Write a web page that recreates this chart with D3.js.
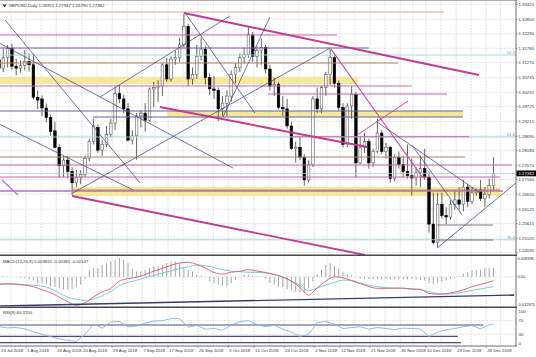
<!DOCTYPE html>
<html><head><meta charset="utf-8">
<script src="https://cdn.jsdelivr.net/npm/d3@7"></script>
<style>body{margin:0;background:#fff;}svg{display:block;font-family:"Liberation Sans",Arial,sans-serif;}</style>
</head><body>
<svg id="c" width="536" height="357"></svg>
<script>
// ---------- DATA ----------
const symbol = "GBPUSD,Daily";
const opens = [1.3137,1.3108,1.3146,1.3177,1.3115,1.3108,1.3118,1.3132,1.3120,1.3006,1.3000,1.2968,1.2935,1.2888,1.2830,1.2765,1.2785,1.2745,1.2705,1.2725,1.2735,1.2790,1.2850,1.2900,1.2820,1.2840,1.2875,1.2915,1.3020,1.3000,1.2965,1.2855,1.2870,1.2940,1.2950,1.2925,1.3035,1.3040,1.3045,1.3120,1.3070,1.3140,1.3145,1.3190,1.3255,1.3070,1.3085,1.3150,1.3175,1.3075,1.3035,1.3030,1.2965,1.2985,1.3010,1.3085,1.3110,1.3145,1.3155,1.3225,1.3150,1.3170,1.3180,1.3105,1.3045,1.3050,1.2970,1.2965,1.2905,1.2825,1.2830,1.2795,1.2715,1.2770,1.3000,1.2965,1.3040,1.3085,1.3145,1.3055,1.2970,1.2840,1.2975,1.3015,1.2775,1.2830,1.2850,1.2775,1.2815,1.2880,1.2815,1.2830,1.2720,1.2795,1.2770,1.2745,1.2730,1.2722,1.2740,1.2755,1.2725,1.2560,1.2495,1.2630,1.2590,1.2585,1.2630,1.2645,1.2630,1.2690,1.2640,1.2670,1.2680,1.2650,1.2665,1.26951];
const highs = [1.3150,1.3177,1.3189,1.3194,1.3140,1.3135,1.3172,1.3160,1.3156,1.3030,1.3012,1.2985,1.2945,1.2920,1.2840,1.2800,1.2800,1.2760,1.2750,1.2750,1.2800,1.2860,1.2930,1.2910,1.2855,1.2905,1.2930,1.3043,1.3050,1.3015,1.2985,1.2890,1.2950,1.2960,1.2985,1.3040,1.3060,1.3065,1.3125,1.3145,1.3150,1.3170,1.3215,1.3298,1.3265,1.3110,1.3190,1.3215,1.3185,1.3090,1.3080,1.3040,1.3010,1.3030,1.3100,1.3125,1.3160,1.3180,1.3257,1.3235,1.3185,1.3212,1.3190,1.3120,1.3075,1.3060,1.3010,1.3000,1.2920,1.2850,1.2865,1.2805,1.2785,1.3010,1.3040,1.3045,1.3095,1.3175,1.3160,1.3065,1.2985,1.2985,1.3045,1.3025,1.2870,1.2880,1.2860,1.2825,1.2930,1.2890,1.2845,1.2835,1.2805,1.2815,1.2800,1.2840,1.2790,1.2760,1.2800,1.2825,1.2745,1.2670,1.2670,1.2670,1.2620,1.2645,1.2680,1.2690,1.2715,1.2700,1.2690,1.2685,1.2715,1.2690,1.2720,1.27947];
const lows = [1.3100,1.3094,1.3110,1.3103,1.3082,1.3092,1.3100,1.3096,1.2998,1.2965,1.2940,1.2918,1.2870,1.2825,1.2723,1.2725,1.2720,1.2662,1.2690,1.2700,1.2725,1.2780,1.2840,1.2810,1.2800,1.2830,1.2865,1.2890,1.2985,1.2950,1.2850,1.2840,1.2786,1.2900,1.2885,1.2920,1.2970,1.2990,1.3010,1.3060,1.3060,1.3120,1.3130,1.3180,1.3045,1.3050,1.3070,1.3135,1.3050,1.3015,1.3000,1.2922,1.2940,1.2940,1.2990,1.3055,1.3095,1.3125,1.3145,1.3130,1.3110,1.3120,1.3090,1.3030,1.3010,1.2965,1.2940,1.2895,1.2820,1.2776,1.2785,1.2695,1.2705,1.2760,1.2950,1.2950,1.3010,1.3050,1.3040,1.2960,1.2830,1.2830,1.2930,1.2725,1.2770,1.2810,1.2755,1.2760,1.2810,1.2805,1.2790,1.2705,1.2710,1.2755,1.2725,1.2720,1.2660,1.2695,1.2690,1.2715,1.2530,1.2488,1.2477,1.2580,1.2560,1.2575,1.2610,1.2610,1.2605,1.2620,1.2630,1.2660,1.2640,1.2620,1.2650,1.26790];
const closes = [1.3108,1.3146,1.3177,1.3115,1.3108,1.3118,1.3132,1.3120,1.3006,1.2996,1.2968,1.2935,1.2885,1.2830,1.2765,1.2785,1.2745,1.2705,1.2725,1.2735,1.2790,1.2850,1.2905,1.2820,1.2840,1.2875,1.2915,1.3020,1.3000,1.2965,1.2855,1.2870,1.2940,1.2950,1.2925,1.3035,1.3040,1.3045,1.3120,1.3070,1.3140,1.3145,1.3190,1.3255,1.3070,1.3085,1.3150,1.3175,1.3075,1.3035,1.3030,1.2965,1.2985,1.3010,1.3085,1.3110,1.3145,1.3155,1.3225,1.3150,1.3170,1.3180,1.3105,1.3045,1.3050,1.2970,1.2965,1.2905,1.2825,1.2830,1.2795,1.2715,1.2770,1.3000,1.2965,1.3040,1.3085,1.3145,1.3055,1.2970,1.2840,1.2975,1.3015,1.2775,1.2830,1.2850,1.2775,1.2815,1.2880,1.2815,1.2830,1.2720,1.2795,1.2770,1.2745,1.2730,1.2722,1.2740,1.2755,1.2725,1.2560,1.2495,1.2630,1.2590,1.2585,1.2630,1.2645,1.2630,1.2690,1.2640,1.2670,1.2680,1.2650,1.2665,1.2695,1.27382];

const timeLabels = ["23 Jul 2018","1 Aug 2018","10 Aug 2018","20 Aug 2018","29 Aug 2018","7 Sep 2018","17 Sep 2018","26 Sep 2018","5 Oct 2018","15 Oct 2018","24 Oct 2018","2 Nov 2018","12 Nov 2018","21 Nov 2018","30 Nov 2018","10 Dec 2018","19 Dec 2018","28 Dec 2018"];
const timeLabelIdx = [0,7,14,20,27,34,40,47,54,60,67,74,80,87,94,100,107,114];
const priceTicks = [1.33325,1.32800,1.32290,1.31780,1.31270,1.30745,1.30235,1.29725,1.29215,1.28690,1.28180,1.27670,1.27160,1.26650,1.26125,1.25615,1.25105,1.24595];

// horizontal levels (price, from bar, to bar, kind)
const levelPrices = [1.33054,1.32246,1.31789,1.31262,1.30454,1.30173,1.29575,1.29364,1.28672,1.27958,1.27677,1.27255,1.26763,1.26798,1.25569,1.25041];
const levelFrom   = [-2,-2,-2,-2,-2,62.6,-2,21.9,67.7,-2,-2,-2,-2,17,101.9,101.9];
const levelTo     = [103.5,78.6,86,92.8,96,104.2,107.9,107.9,109.3,108.4,119.3,116.5,117.2,116.5,114.9,114.9];
const levelKind   = ["tan","pink","slate","brown","pink","pink","slate","slate","pink","brown","pink","pink","violet","brown","gray","gray"];
// zones
const bandTop    = [1.30770,1.29575,1.26904];
const bandBottom = [1.30524,1.29364,1.26588];
const bandFrom   = [-2,39.1,17];
const bandTo     = [83.5,107.9,116.5];
// fibonacci
const fibPct   = ["50.0","61.8","76.4"];
const fibPrice = [1.31543,1.28661,1.25050];
// trend lines
const trendI1 = [43.0,37.4,17.0,77.2,83.3,17.2,43.3,23.5,-1,1.4,-1,52.1,87.9,96.0,101.9,0.7];
const trendP1 = [1.33019,1.29716,1.26588,1.31754,1.28732,1.26693,1.33019,1.30067,1.32048,1.32773,1.29196,1.29364,1.29189,1.28380,1.24760,1.27150];
const trendI2 = [111.6,85.6,85.1,98.6,95.1,77.0,59.5,53.7,54.4,32.8,31.2,63.0,111.9,107.7,120.5,4.4];
const trendP2 = [1.30840,1.28310,1.24514,1.27220,1.29926,1.31789,1.29505,1.32914,1.27572,1.27045,1.26799,1.32879,1.26693,1.25920,1.27080,1.26623];
const trendKind = ["thick","thick","thick","pinkM","pinkT","dark","dark","dark","dark","dark","dark","dark","dark","dark","dark","violet"];

// MACD (values in 1e-3), lines sampled every 2 bars (last = final bar)
const macdHist = [0.3,0.3,0.2,0,-0.2,-0.4,-0.6,-1.0,-1.5,-2.5,-2.7,-3.4,-4.2,-4.5,-4.9,-5.4,-5.6,-5.2,-4.5,-3.4,-1.0,3.0,3.8,3.8,5.2,5.9,6.7,7.4,8.1,7.4,5.9,3.5,2.3,2.3,3.0,3.8,4.5,4.5,5.2,5.9,6.7,6.7,5.9,4.5,3.0,2.3,0.9,0.5,-0.3,-2.0,-2.7,-3.4,-3.9,-3.9,-2.7,-1.3,0.1,0.9,0.9,0.5,0.3,0.1,-0.6,-2.7,-3.4,-4.2,-4.5,-5.4,-6.0,-6.4,-6.8,-7.1,-5.0,-2.0,0.9,3.0,5.2,5.9,4.8,3.6,2.3,1.3,0.9,0.1,-0.6,-0.8,-1.0,-1.1,-0.9,-1.0,-1.1,-1.2,-1.0,-1.1,-1.2,-1.1,-1.0,-1.2,-1.3,-1.5,-2.8,-3.1,-2.9,-2.2,-1.6,-0.9,-0.3,0.4,1.3,2.0,2.6,3.0,3.2,3.6,3.9,3.82];
const macdMain = [-3.2,-3.0,-3.2,-3.6,-4.3,-5.6,-6.9,-8.8,-10.8,-12.4,-11.3,-8.7,-6.5,-5.0,-1.9,-0.8,-0.2,1.0,2.5,3.7,5.0,6.0,6.3,5.4,3.8,1.9,1.2,2.0,2.4,3.1,2.5,1.9,1.0,0.0,-1.9,-4.6,-7.9,-4.8,-1.8,0.0,-0.4,-1.7,-3.0,-4.2,-5.0,-5.0,-4.9,-4.9,-5.3,-5.4,-7.2,-7.5,-7.3,-6.6,-5.7,-4.3,-3.3,-2.3,-1.7];
const macdSignal = [-3.2,-3.2,-3.2,-3.4,-3.7,-4.0,-5.0,-7.0,-8.8,-9.8,-10.2,-9.6,-8.2,-6.4,-3.8,-2.4,-1.5,-0.4,0.6,1.7,2.6,3.6,4.4,5.1,4.8,4.0,3.1,2.5,2.2,2.0,1.9,1.7,1.0,-0.2,-1.8,-3.7,-6.1,-4.9,-3.6,-2.4,-1.4,-1.5,-2.7,-3.6,-4.3,-4.7,-4.9,-5.0,-5.3,-5.6,-6.4,-7.3,-7.5,-7.2,-6.6,-5.9,-5.2,-4.6,-4.3];
const macdTrendI = [0.2,119.8];
const macdTrendV = [-12.68,-7.9];
const macdTicks = [8.396,0,-12.875];
const macdTickText = ["0.008396","0.00","-0.012875"];
// RSI(9), sampled every 2 bars (last = final bar)
const rsiVals = [52,49,50,46,38,30,23,17,12,9,30,60,48,66,68,52,54,63,69,70,76,76,51,56,45,47,42,57,67,70,59,52,57,45,36,24,30,64,68,60,47,50,52,45,50,47,44,48,47,46,23,37,43,47,52,56,46,58,60.37];
const rsiLevelVals = [57.4,24.0,5.5];
const rsiLevelTo = [112.6,106.7,107.4];
const rsiTicks = [100,70,30,0];

// ---------- DRAW ----------
const svg = d3.select("#c");
const R = 516;
const FS = 4.3;
const last = closes.length - 1;
const xs = d3.scaleLinear().domain([0, 115]).range([-1, 493.5]);
const yP = d3.scaleLinear().domain([1.24595, 1.33325]).range([252.7, 4.3]);
const yM = d3.scaleLinear().domain([-12.875, 8.396]).range([306.5, 257.5]);
const yR = d3.scaleLinear().domain([0, 100]).range([344.5, 310.5]);
const stepIdx = (k) => Math.min(2 * k, 115);

svg.append("rect").attr("width", 536).attr("height", 357).attr("fill", "#fff");
const defs = svg.append("defs");
function clip(id, y0, y1) {
  defs.append("clipPath").attr("id", id).append("rect")
    .attr("x", 0).attr("y", y0).attr("width", R).attr("height", y1 - y0);
}
clip("cpMain", 0, 255); clip("cpMacd", 256, 306.5); clip("cpRsi", 308, 345.5);

// grid
const grid = svg.append("g").attr("stroke", "#c4c4c4").attr("stroke-width", 0.6).attr("stroke-dasharray", "1.4,1.4");
const tickX = timeLabelIdx.map(i => xs(i) - 3);
const gridX = [];
tickX.forEach((t, k) => {
  const nx = k < tickX.length - 1 ? tickX[k + 1] : t + 28.5;
  gridX.push(t, (t + nx) / 2);
});
gridX.filter(g => g > 1 && g < R).forEach(g => {
  grid.append("line").attr("x1", g).attr("x2", g).attr("y1", 0).attr("y2", 346);
});
priceTicks.forEach(p => grid.append("line").attr("x1", 0).attr("x2", R).attr("y1", yP(p)).attr("y2", yP(p)));
[0].forEach(v => grid.append("line").attr("x1", 0).attr("x2", R).attr("y1", yM(v)).attr("y2", yM(v)));
[70, 30].forEach(v => grid.append("line").attr("x1", 0).attr("x2", R).attr("y1", yR(v)).attr("y2", yR(v)));

// main panel
const main = svg.append("g").attr("clip-path", "url(#cpMain)");
bandTop.forEach((t, k) => {
  main.append("rect").attr("x", xs(bandFrom[k])).attr("width", xs(bandTo[k]) - xs(bandFrom[k]))
    .attr("y", yP(t)).attr("height", yP(bandBottom[k]) - yP(t)).attr("fill", "#f4e592").attr("opacity", 0.9);
});
// candles
const bw = 2.6;
closes.forEach((c, i) => {
  const o = opens[i], x = xs(i);
  main.append("line").attr("x1", x).attr("x2", x).attr("y1", yP(highs[i])).attr("y2", yP(lows[i]))
    .attr("stroke", "#222").attr("stroke-width", 0.7);
  const top = yP(Math.max(o, c)), bot = yP(Math.min(o, c));
  main.append("rect").attr("x", x - bw / 2).attr("width", bw).attr("y", top).attr("height", Math.max(0.6, bot - top))
    .attr("fill", c >= o ? "#fafafa" : "#000").attr("stroke", c >= o ? "#555" : "#000").attr("stroke-width", 0.55);
});
// levels
const lvlStyle = {tan:["#dba780",1.1], pink:["#c966a8",1.1], slate:["#6464a2",1.0], brown:["#b3835e",1.0], violet:["#b66fd2",1.4], gray:["#5a5a5a",0.8]};
fibPrice.forEach((p) => {
  main.append("line").attr("x1", 0).attr("x2", R).attr("y1", yP(p)).attr("y2", yP(p)).attr("stroke", "#a4d3dc").attr("stroke-width", 0.9);
});
main.append("line").attr("x1", 0).attr("x2", R).attr("y1", yP(closes[last])).attr("y2", yP(closes[last]))
  .attr("stroke", "#c4c4c4").attr("stroke-width", 0.8);
levelPrices.forEach((p, k) => {
  const s = lvlStyle[levelKind[k]];
  main.append("line").attr("x1", xs(levelFrom[k])).attr("x2", xs(levelTo[k])).attr("y1", yP(p)).attr("y2", yP(p))
    .attr("stroke", s[0]).attr("stroke-width", s[1]);
});
const trStyle = {thick:["#c53a92",1.9], pinkM:["#c64c9e",1.2], pinkT:["#c64c9e",1.0], dark:["#454575",0.75], violet:["#b66fd2",1.1]};
trendI1.forEach((a, k) => {
  const s = trStyle[trendKind[k]];
  main.append("line").attr("x1", xs(a)).attr("y1", yP(trendP1[k])).attr("x2", xs(trendI2[k])).attr("y2", yP(trendP2[k]))
    .attr("stroke", s[0]).attr("stroke-width", s[1]);
});
// fib labels
fibPct.forEach((t, k) => {
  svg.append("text").attr("x", 515).attr("y", yP(fibPrice[k]) - 0.8).attr("text-anchor", "end")
    .attr("font-size", FS).attr("fill", "#5fa8b4").text(t);
});

// MACD panel
const mg = svg.append("g").attr("clip-path", "url(#cpMacd)");
macdHist.forEach((v, i) => {
  mg.append("line").attr("x1", xs(i)).attr("x2", xs(i)).attr("y1", yM(0)).attr("y2", yM(v))
    .attr("stroke", "#a6a6a6").attr("stroke-width", 1.0);
});
const lineM = d3.line().x((d, k) => xs(stepIdx(k))).y(d => yM(d)).curve(d3.curveMonotoneX);
mg.append("path").attr("d", lineM(macdSignal)).attr("fill", "none").attr("stroke", "#6cc6d6").attr("stroke-width", 0.9);
mg.append("path").attr("d", lineM(macdMain)).attr("fill", "none").attr("stroke", "#d65a6c").attr("stroke-width", 0.9);
mg.append("line").attr("x1", xs(macdTrendI[0])).attr("y1", yM(macdTrendV[0])).attr("x2", xs(macdTrendI[1])).attr("y2", yM(macdTrendV[1]))
  .attr("stroke", "#3c3c6c").attr("stroke-width", 1.4);

// RSI panel
const rg = svg.append("g").attr("clip-path", "url(#cpRsi)");
rsiLevelVals.forEach((v, k) => {
  rg.append("line").attr("x1", 0).attr("x2", xs(rsiLevelTo[k])).attr("y1", yR(v)).attr("y2", yR(v))
    .attr("stroke", "#4a4a88").attr("stroke-width", 1.2);
});
const lineR = d3.line().x((d, k) => xs(stepIdx(k))).y(d => yR(d));
rg.append("path").attr("d", lineR(rsiVals)).attr("fill", "none").attr("stroke", "#84b6de").attr("stroke-width", 0.9);

// separators & borders
const fr = svg.append("g").attr("stroke", "#4a4a4a");
fr.append("line").attr("x1", 0).attr("x2", R + 1).attr("y1", 255.3).attr("y2", 255.3).attr("stroke-width", 1.6);
fr.append("line").attr("x1", 0).attr("x2", R + 1).attr("y1", 307.2).attr("y2", 307.2).attr("stroke-width", 1.6);
fr.append("line").attr("x1", 0).attr("x2", R + 1).attr("y1", 346).attr("y2", 346).attr("stroke-width", 0.8);
fr.append("line").attr("x1", 0).attr("x2", R + 1).attr("y1", 0.5).attr("y2", 0.5).attr("stroke-width", 0.8).attr("stroke", "#999");
fr.append("line").attr("x1", R).attr("x2", R).attr("y1", 0).attr("y2", 346).attr("stroke-width", 0.8);

// axis labels
const lab = svg.append("g").attr("font-size", FS).attr("fill", "#333");
priceTicks.forEach(p => {
  const y = Math.min(250, Math.max(4, yP(p)));
  lab.append("line").attr("x1", R).attr("x2", R + 2).attr("y1", yP(p)).attr("y2", yP(p)).attr("stroke", "#555").attr("stroke-width", 0.5);
  lab.append("text").attr("x", 518.5).attr("y", y).attr("dy", "0.35em").text(p.toFixed(5));
});
// current price box
const yc = yP(closes[last]);
svg.append("rect").attr("x", 516.5).attr("y", yc - 2.9).attr("width", 19.5).attr("height", 5.8).attr("fill", "#000");
svg.append("text").attr("x", 518.5).attr("y", yc).attr("dy", "0.35em").attr("font-size", FS).attr("fill", "#fff").text(closes[last].toFixed(5));
macdTicks.forEach((v, k) => {
  const y = Math.min(304.5, Math.max(259, yM(v)));
  lab.append("text").attr("x", 517.5).attr("y", y).attr("dy", "0.35em").attr("font-size", 3.9).text(macdTickText[k]);
});
rsiTicks.forEach(v => {
  const y = Math.min(343.5, Math.max(311.5, yR(v)));
  lab.append("text").attr("x", 518.5).attr("y", y).attr("dy", "0.35em").text(v);
});
timeLabelIdx.forEach((i, k) => {
  const x = Math.max(1, xs(i) - 2);
  lab.append("line").attr("x1", xs(i) - 3).attr("x2", xs(i) - 3).attr("y1", 346).attr("y2", 348).attr("stroke", "#555").attr("stroke-width", 0.5);
  lab.append("text").attr("x", x).attr("y", 351.5).text(timeLabels[k]);
});
// panel titles
svg.append("path").attr("d", "M2.5,4.5 L6.5,4.5 L4.5,7.5 Z").attr("fill", "#333");
lab.append("text").attr("x", 8.5).attr("y", 7.4)
  .text(symbol + "  " + [opens[last], highs[last], lows[last], closes[last]].map(v => v.toFixed(5)).join(" "));
lab.append("text").attr("x", 3).attr("y", 262.5).text("MACD(12,26,9) 0.003820 -0.00381 -0.00147");
lab.append("text").attr("x", 3).attr("y", 313.5).text("RSI(9) " + rsiVals[rsiVals.length - 1].toFixed(4));
</script>
</body></html>
